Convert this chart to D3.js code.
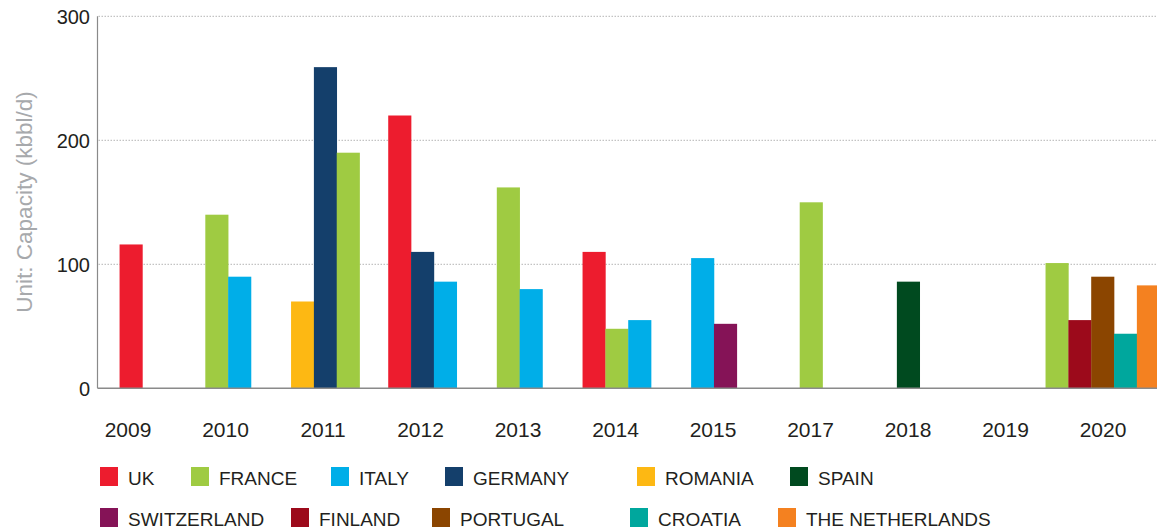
<!DOCTYPE html>
<html>
<head>
<meta charset="utf-8">
<script src="https://cdn.jsdelivr.net/npm/d3@7"></script>
<style>
  body { margin: 0; background: #fff; }
  svg { display: block; font-family: "Liberation Sans", Arial, sans-serif; }
</style>
</head>
<body>
<div id="chart"></div>
<script>
// refinery capacity by year, bars grouped per year (only countries with a value)
const years = ["2009", "2010", "2011", "2012", "2013", "2014", "2015", "2017", "2018", "2019", "2020"];

// countries in each year group, left to right
const groupCountries = [
  ["UK"],
  ["FRANCE", "ITALY"],
  ["ROMANIA", "GERMANY", "FRANCE"],
  ["UK", "GERMANY", "ITALY"],
  ["FRANCE", "ITALY"],
  ["UK", "FRANCE", "ITALY"],
  ["ITALY", "SWITZERLAND"],
  ["FRANCE"],
  ["SPAIN"],
  [],
  ["FRANCE", "FINLAND", "PORTUGAL", "CROATIA", "THE NETHERLANDS"]
];

// capacity (kbbl/d), same shape as groupCountries
const groupValues = [
  [116],
  [140, 90],
  [70, 259, 190],
  [220, 110, 86],
  [162, 80],
  [110, 48, 55],
  [105, 52],
  [150],
  [86],
  [],
  [101, 55, 90, 44, 83]
];

const countries = ["UK", "FRANCE", "ITALY", "GERMANY", "ROMANIA", "SPAIN",
  "SWITZERLAND", "FINLAND", "PORTUGAL", "CROATIA", "THE NETHERLANDS"];
const countryColors = ["#ed1c2e", "#9fcb42", "#00aee8", "#143f6b", "#fdb813", "#004a1f",
  "#851357", "#9c0a1b", "#8b4500", "#00a79d", "#f48120"];

const yTicks = [0, 100, 200, 300];

const W = 1157, H = 531;
const axisX = 97.5, baseY = 388.3, topY = 16.3;

const svg = d3.select("#chart").append("svg")
  .attr("width", W).attr("height", H)
  .attr("viewBox", `0 0 ${W} ${H}`);

const color = d3.scaleOrdinal().domain(countries).range(countryColors);

// labels and bar groups sit on slightly different grids in the original
const xLabel = d3.scaleBand().domain(years).range([79.25, 1151.75]).padding(0);
const x = d3.scaleBand().domain(years).range([82.4, 1151.2]).padding(0);
const y = d3.scaleLinear().domain([0, 300]).range([baseY, topY]);

const barW = x.step() * 0.235;

// gridlines
svg.append("g")
  .selectAll("line")
  .data(yTicks.filter(d => d > 0))
  .join("line")
  .attr("x1", axisX + 1).attr("x2", W)
  .attr("y1", d => y(d)).attr("y2", d => y(d))
  .attr("stroke", "#b5b5b5")
  .attr("stroke-width", 1)
  .attr("stroke-dasharray", "1.5,1.5");

// y tick labels
svg.append("g")
  .selectAll("text")
  .data(yTicks)
  .join("text")
  .attr("x", 90)
  .attr("y", d => y(d))
  .attr("dy", "0.36em")
  .attr("text-anchor", "end")
  .style("font-size", "20px")
  .style("fill", "#231f20")
  .text(d => d);

// bars
const groups = svg.append("g")
  .selectAll("g")
  .data(years.map((yr, i) => ({
    year: yr,
    bars: groupCountries[i].map((c, j) => ({ country: c, value: groupValues[i][j] }))
  })))
  .join("g")
  .attr("transform", d => `translate(${x(d.year) + x.bandwidth() / 2 - d.bars.length * barW / 2},0)`);

groups.selectAll("rect")
  .data(d => d.bars)
  .join("rect")
  .attr("x", (d, i) => i * barW)
  .attr("y", d => y(d.value))
  .attr("width", barW + 0.3)
  .attr("height", d => baseY - y(d.value))
  .attr("fill", d => color(d.country));

// axes lines
svg.append("line")
  .attr("x1", axisX).attr("x2", axisX)
  .attr("y1", topY).attr("y2", baseY)
  .attr("stroke", "#8a8a8a").attr("stroke-width", 1.2);
svg.append("line")
  .attr("x1", axisX).attr("x2", W)
  .attr("y1", baseY).attr("y2", baseY)
  .attr("stroke", "#8a8a8a").attr("stroke-width", 1.5);

// year labels
svg.append("g")
  .selectAll("text")
  .data(years)
  .join("text")
  .attr("x", d => xLabel(d) + xLabel.bandwidth() / 2)
  .attr("y", 437)
  .attr("text-anchor", "middle")
  .style("font-size", "21px")
  .style("fill", "#231f20")
  .text(d => d);

// y title
svg.append("text")
  .attr("transform", "translate(32,202) rotate(-90)")
  .attr("text-anchor", "middle")
  .style("font-size", "22.5px")
  .style("fill", "#a7a9ac")
  .text("Unit: Capacity (kbbl/d)");

// legend, two rows; column starts as laid out in the original
const legendRows = [countries.slice(0, 6), countries.slice(6)];
const legendCols = [[100, 191, 331, 445, 637, 790], [100, 291, 432, 630, 778]];
const rowY = [467, 508];
legendRows.forEach((row, r) => {
  row.forEach((c, i) => {
    const g = svg.append("g").attr("transform", `translate(${legendCols[r][i]},${rowY[r]})`);
    g.append("rect").attr("width", 18).attr("height", 19).attr("fill", color(c));
    g.append("text")
      .attr("x", 28).attr("y", 18)
      .style("font-size", "19px")
      .style("fill", "#231f20")
      .text(c);
  });
});
</script>
</body>
</html>
